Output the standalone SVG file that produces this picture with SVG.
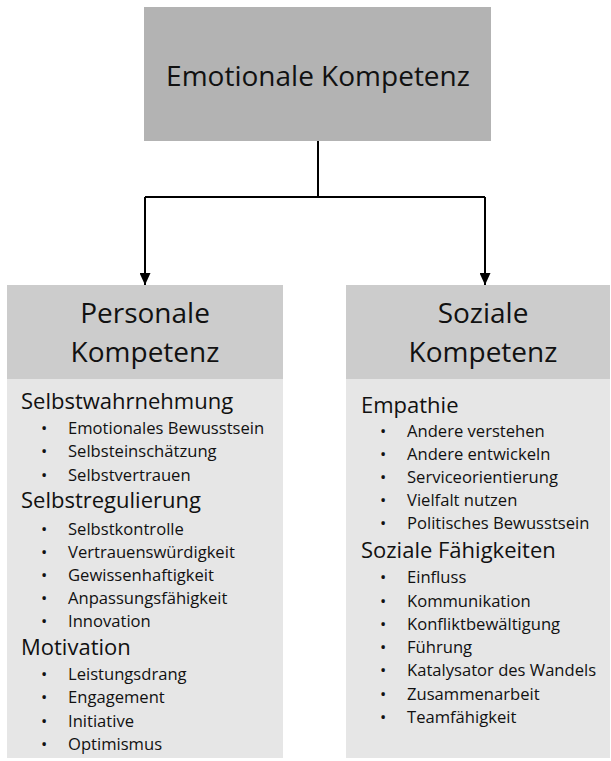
<svg xmlns="http://www.w3.org/2000/svg" width="611" height="761" viewBox="0 0 611 761">
<defs>
<marker id="ah" markerWidth="12" markerHeight="11" refX="12" refY="5.5" orient="auto" markerUnits="userSpaceOnUse">
<path d="M0,0 L12,5.5 L0,11 Z" fill="#000"/>
</marker>
<style>
text{font-family:"Open Sans","Noto Sans","Liberation Sans",sans-serif;fill:#111;}
.top{fill:#b3b3b3;}
.hdr{fill:#cccccc;}
.body{fill:#e6e6e6;}
.big{font-size:28px;text-anchor:middle;}
.sub{font-size:22px;}
.item{font-size:16.6px;}
.conn{fill:none;stroke:#000;stroke-width:2;}
</style>
</defs>
<rect width="611" height="761" fill="#fff"/>
<g id="connectors">
<path class="conn" d="M318,141 V197"/>
<path class="conn" d="M145,197 H485"/>
<path class="conn" d="M145,197 V285" marker-end="url(#ah)"/>
<path class="conn" d="M485,197 V285" marker-end="url(#ah)"/>
</g>
<g id="emotionale">
<rect class="top" x="144" y="7" width="347" height="134"/>
<text class="big" x="318" y="86">Emotionale Kompetenz</text>
</g>
<g id="personale">
<rect class="hdr" x="7" y="285" width="276" height="94"/>
<rect class="body" x="7" y="379" width="276" height="379"/>
<text class="big" x="145" y="323">Personale</text>
<text class="big" x="145" y="362">Kompetenz</text>
<text class="sub" x="21" y="409">Selbstwahrnehmung</text>
<g class="item">
<text class="item" x="41" y="434">•</text><text class="item" x="68" y="434">Emotionales Bewusstsein</text>
<text class="item" x="41" y="457">•</text><text class="item" x="68" y="457">Selbsteinschätzung</text>
<text class="item" x="41" y="481">•</text><text class="item" x="68" y="481">Selbstvertrauen</text>
</g>
<text class="sub" x="21" y="508">Selbstregulierung</text>
<text class="item" x="41" y="535">•</text><text class="item" x="68" y="535">Selbstkontrolle</text>
<text class="item" x="41" y="558">•</text><text class="item" x="68" y="558">Vertrauenswürdigkeit</text>
<text class="item" x="41" y="581">•</text><text class="item" x="68" y="581">Gewissenhaftigkeit</text>
<text class="item" x="41" y="604">•</text><text class="item" x="68" y="604">Anpassungsfähigkeit</text>
<text class="item" x="41" y="627">•</text><text class="item" x="68" y="627">Innovation</text>
<text class="sub" x="21" y="655">Motivation</text>
<text class="item" x="41" y="680">•</text><text class="item" x="68" y="680">Leistungsdrang</text>
<text class="item" x="41" y="703">•</text><text class="item" x="68" y="703">Engagement</text>
<text class="item" x="41" y="727">•</text><text class="item" x="68" y="727">Initiative</text>
<text class="item" x="41" y="750">•</text><text class="item" x="68" y="750">Optimismus</text>
</g>
<g id="soziale">
<rect class="hdr" x="346" y="285" width="264" height="94"/>
<rect class="body" x="346" y="379" width="264" height="379"/>
<text class="big" x="483" y="323">Soziale</text>
<text class="big" x="483" y="362">Kompetenz</text>
<text class="sub" x="361" y="413">Empathie</text>
<text class="item" x="380" y="437">•</text><text class="item" x="407" y="437">Andere verstehen</text>
<text class="item" x="380" y="460">•</text><text class="item" x="407" y="460">Andere entwickeln</text>
<text class="item" x="380" y="483">•</text><text class="item" x="407" y="483">Serviceorientierung</text>
<text class="item" x="380" y="506">•</text><text class="item" x="407" y="506">Vielfalt nutzen</text>
<text class="item" x="380" y="529">•</text><text class="item" x="407" y="529">Politisches Bewusstsein</text>
<text class="sub" x="361" y="558">Soziale Fähigkeiten</text>
<text class="item" x="380" y="583">•</text><text class="item" x="407" y="583">Einfluss</text>
<text class="item" x="380" y="607">•</text><text class="item" x="407" y="607">Kommunikation</text>
<text class="item" x="380" y="630">•</text><text class="item" x="407" y="630">Konfliktbewältigung</text>
<text class="item" x="380" y="653">•</text><text class="item" x="407" y="653">Führung</text>
<text class="item" x="380" y="676">•</text><text class="item" x="407" y="676">Katalysator des Wandels</text>
<text class="item" x="380" y="700">•</text><text class="item" x="407" y="700">Zusammenarbeit</text>
<text class="item" x="380" y="723">•</text><text class="item" x="407" y="723">Teamfähigkeit</text>
</g>
</svg>
